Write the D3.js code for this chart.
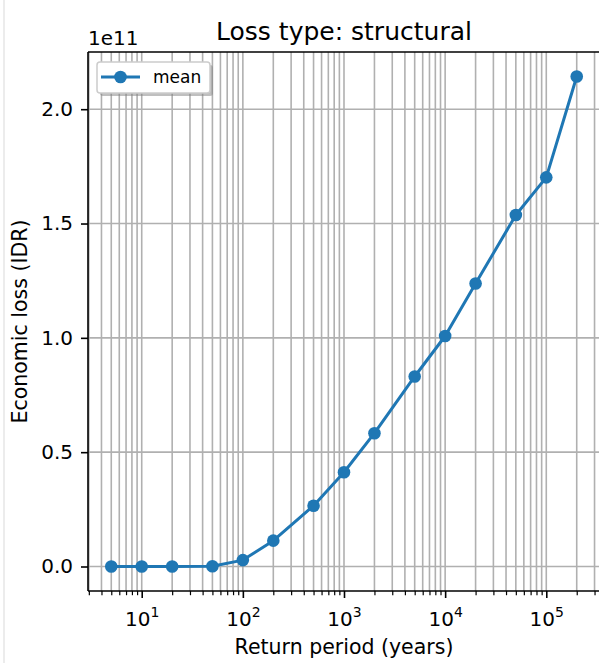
<!DOCTYPE html>
<html>
<head>
<meta charset="utf-8">
<script src="https://cdn.jsdelivr.net/npm/d3@7"></script>
<style>
  html, body { margin: 0; padding: 0; background: #fff; }
  svg { display: block; }
  text { font-family: "DejaVu Sans", sans-serif; fill: #000; }
</style>
</head>
<body>
<svg id="chart" width="599" height="663"></svg>
<script>
// Loss curve: return period (years) vs mean economic loss (IDR)
const returnPeriods = [5, 10, 20, 50, 100, 200, 500, 1000, 2000, 5000, 10000, 20000, 50000, 100000, 200000];
const meanLoss = [0, 0, 0, 0.001e11, 0.028e11, 0.113e11, 0.266e11, 0.412e11, 0.583e11, 0.831e11,
                  1.008e11, 1.2375e11, 1.537e11, 1.702e11, 2.143e11];
const xMajorTicks = [10, 100, 1000, 10000, 100000];
const yTicks = [0, 0.5e11, 1.0e11, 1.5e11, 2.0e11];
const yExponentLabel = "1e11";
const titleText = "Loss type: structural";
const xLabelText = "Return period (years)";
const yLabelText = "Economic loss (IDR)";
const seriesName = "mean";

const blue = "#1f77b4";
const gridColor = "#b0b0b0";

const svg = d3.select("#chart");

// thin frame line along the left edge of the figure
svg.append("rect").attr("x", 3).attr("y", 0).attr("width", 2).attr("height", 663).attr("fill", "#ececec");

const plot = { left: 88, right: 600, top: 52, bottom: 591 };

// axis limits with 5% padding, computed in log space for x
const lx = d3.extent(returnPeriods).map(Math.log10);
const padX = 0.05 * (lx[1] - lx[0]);
const x = d3.scaleLog()
  .domain([Math.pow(10, lx[0] - padX), Math.pow(10, lx[1] + padX)])
  .range([plot.left, plot.right]);

const ly = d3.extent(meanLoss);
const padY = 0.05 * (ly[1] - ly[0]);
const y = d3.scaleLinear()
  .domain([ly[0] - padY, ly[1] + padY])
  .range([plot.bottom, plot.top]);

// minor ticks: 2..9 times each decade, inside the domain
const [dx0, dx1] = x.domain();
const xMinorTicks = [];
for (let e = 0; e <= 6; e++) {
  for (let m = 2; m <= 9; m++) {
    const v = m * Math.pow(10, e);
    if (v >= dx0 && v <= dx1) xMinorTicks.push(v);
  }
}

const clipId = "plot-clip";
svg.append("clipPath").attr("id", clipId)
  .append("rect").attr("x", plot.left).attr("y", plot.top)
  .attr("width", plot.right - plot.left).attr("height", plot.bottom - plot.top);

// grid lines (major and minor on x, major on y)
const grid = svg.append("g").attr("clip-path", `url(#${clipId})`);
grid.selectAll("line.gx")
  .data(xMajorTicks.concat(xMinorTicks))
  .join("line")
  .attr("class", "gx")
  .attr("x1", d => x(d)).attr("x2", d => x(d))
  .attr("y1", plot.top).attr("y2", plot.bottom)
  .attr("stroke", gridColor).attr("stroke-width", 1.6);
grid.selectAll("line.gy")
  .data(yTicks)
  .join("line")
  .attr("class", "gy")
  .attr("x1", plot.left).attr("x2", plot.right)
  .attr("y1", d => y(d)).attr("y2", d => y(d))
  .attr("stroke", gridColor).attr("stroke-width", 1.6);

// data line and markers
const series = returnPeriods.map((p, i) => ({ p, v: meanLoss[i] }));
const lineGen = d3.line().x(d => x(d.p)).y(d => y(d.v));
const marks = svg.append("g").attr("clip-path", `url(#${clipId})`);
marks.append("path")
  .datum(series)
  .attr("d", lineGen)
  .attr("fill", "none")
  .attr("stroke", blue)
  .attr("stroke-width", 3)
  .attr("stroke-linejoin", "round");
marks.selectAll("circle")
  .data(series)
  .join("circle")
  .attr("cx", d => x(d.p))
  .attr("cy", d => y(d.v))
  .attr("r", 6.3)
  .attr("fill", blue);

// spines
const spines = svg.append("g").attr("stroke", "#000").attr("stroke-width", 1.6);
spines.append("line").attr("x1", plot.left).attr("x2", plot.right).attr("y1", plot.top).attr("y2", plot.top);
spines.append("line").attr("x1", plot.left).attr("x2", plot.right).attr("y1", plot.bottom).attr("y2", plot.bottom);
spines.append("line").attr("x1", plot.left).attr("x2", plot.left).attr("y1", plot.top).attr("y2", plot.bottom);

// x axis: major ticks with power-of-ten labels
const xAxis = svg.append("g")
  .attr("transform", `translate(0,${plot.bottom})`)
  .call(d3.axisBottom(x).tickValues(xMajorTicks).tickSize(7).tickPadding(8).tickFormat(d => ""));
xAxis.select(".domain").remove();
xAxis.selectAll(".tick line").attr("stroke", "#000").attr("stroke-width", 1.6);
xAxis.selectAll(".tick text")
  .attr("font-size", 20)
  .attr("dy", 0)
  .attr("y", 35)
  .each(function (d) {
    const t = d3.select(this);
    t.append("tspan").text("10");
    t.append("tspan").attr("dy", -9).attr("font-size", 14).text(Math.round(Math.log10(d)));
  });

// x axis: minor ticks
const xMinor = svg.append("g")
  .attr("transform", `translate(0,${plot.bottom})`)
  .call(d3.axisBottom(x).tickValues(xMinorTicks).tickSize(4.2).tickFormat(() => ""));
xMinor.select(".domain").remove();
xMinor.selectAll(".tick line").attr("stroke", "#000").attr("stroke-width", 1.2);

// y axis
const yAxis = svg.append("g")
  .attr("transform", `translate(${plot.left},0)`)
  .call(d3.axisLeft(y).tickValues(yTicks).tickSize(7).tickPadding(8)
    .tickFormat(d => (d / 1e11).toFixed(1)));
yAxis.select(".domain").remove();
yAxis.selectAll(".tick line").attr("stroke", "#000").attr("stroke-width", 1.6);
yAxis.selectAll(".tick text").attr("font-size", 20).attr("fill", "#000");

// offset label above the y axis
svg.append("text").attr("x", 88).attr("y", 45).attr("font-size", 20).text(yExponentLabel);

// title and axis labels
svg.append("text").attr("x", (plot.left + plot.right) / 2).attr("y", 40)
  .attr("text-anchor", "middle").attr("font-size", 25).text(titleText);
svg.append("text").attr("x", (plot.left + plot.right) / 2).attr("y", 654)
  .attr("text-anchor", "middle").attr("font-size", 20.5).text(xLabelText);
svg.append("text")
  .attr("transform", `translate(27,${(plot.top + plot.bottom) / 2}) rotate(-90)`)
  .attr("text-anchor", "middle").attr("font-size", 20.5).text(yLabelText);

// legend with drop shadow
const legend = svg.append("g");
legend.append("rect").attr("x", 100).attr("y", 65).attr("width", 113).attr("height", 31)
  .attr("rx", 3).attr("fill", "#7f7f7f").attr("opacity", 0.5);
legend.append("rect").attr("x", 97).attr("y", 62).attr("width", 113).attr("height", 31)
  .attr("rx", 3).attr("fill", "#fff").attr("stroke", "#cccccc").attr("stroke-width", 1.5);
legend.append("line").attr("x1", 101).attr("x2", 140).attr("y1", 77).attr("y2", 77)
  .attr("stroke", blue).attr("stroke-width", 3);
legend.append("circle").attr("cx", 120.5).attr("cy", 77).attr("r", 6.3).attr("fill", blue);
legend.append("text").attr("x", 153).attr("y", 83).attr("font-size", 17).text(seriesName);
</script>
</body>
</html>
